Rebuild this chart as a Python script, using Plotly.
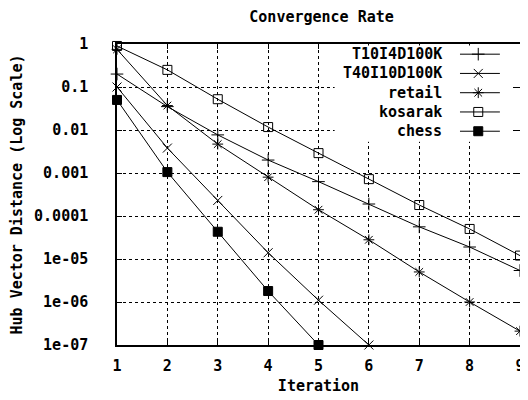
import plotly.graph_objects as go

iterations = [1, 2, 3, 4, 5, 6, 7, 8, 9]

t10i4d100k = [0.2, 0.035, 0.0077, 0.002, 0.00063, 0.00019, 5.6e-05, 1.9e-05, 5.4e-06]
t40i10d100k = [0.1, 0.0038, 0.00023, 1.4e-05, 1.1e-06, 1e-07]
retail = [0.75, 0.037, 0.0047, 0.0008, 0.00014, 2.8e-05, 5e-06, 1e-06, 2.1e-07]
kosarak = [0.9, 0.25, 0.052, 0.0117, 0.0029, 0.00072, 0.00018, 5e-05, 1.2e-05]
chess = [0.05, 0.00105, 4.3e-05, 1.8e-06, 1e-07]

series_names = ["T10I4D100K", "T40I10D100K", "retail", "kosarak", "chess"]
series_values = [t10i4d100k, t40i10d100k, retail, kosarak, chess]
series_symbols = ["cross-thin-open", "x-thin-open", "asterisk-open", "square-open", "square"]

y_tick_vals = [1, 0.1, 0.01, 0.001, 0.0001, 1e-05, 1e-06, 1e-07]
y_tick_text = ["1", "0.1", "0.01", "0.001", "0.0001", "1e-05", "1e-06", "1e-07"]
x_tick_vals = iterations

FONT = dict(family="DejaVu Sans Mono", size=15, color="black", weight="bold")

fig = go.Figure()

for name, vals, sym in zip(series_names, series_values, series_symbols):
    fig.add_trace(go.Scatter(
        x=iterations[:len(vals)], y=vals, name=name, mode="lines+markers",
        line=dict(color="black", width=1),
        marker=dict(symbol=sym, size=9, color="black", line=dict(color="black", width=1)),
        showlegend=False, cliponaxis=False,
    ))

# custom gnuplot-style legend (text on left, sample on right) in a small hidden
# subplot whose white background masks the grid behind the key
for i, (name, sym) in enumerate(zip(series_names, series_symbols)):
    row = 0.91 - 0.2 * i
    fig.add_trace(go.Scatter(
        x=[0.707, 0.932], y=[row, row], xaxis="x2", yaxis="y2", mode="lines",
        line=dict(color="black", width=1), showlegend=False, hoverinfo="skip",
    ))
    fig.add_trace(go.Scatter(
        x=[0.81], y=[row], xaxis="x2", yaxis="y2", mode="markers",
        marker=dict(symbol=sym, size=9, color="black", line=dict(color="black", width=1)),
        showlegend=False, hoverinfo="skip",
    ))
    fig.add_annotation(text=name, xref="x2", yref="y2", x=0.615, y=row,
                       xanchor="right", yanchor="middle", showarrow=False, font=FONT)

# the page body has an 8px margin, so the figure is sized to fit the 528x400 window
fig.update_layout(
    width=520, height=392,
    margin=dict(l=109, r=8, t=36, b=55, autoexpand=False),
    paper_bgcolor="white", plot_bgcolor="white",
    font=FONT,
    title=dict(text="Convergence Rate", x=0.603, xanchor="center", y=0.977, yanchor="middle",
               font=FONT),
    xaxis=dict(
        range=[1, 9], tickvals=x_tick_vals, ticks="inside", ticklen=5, tickcolor="black",
        showline=True, linecolor="black", linewidth=1.5, mirror="allticks",
        showgrid=True, gridcolor="black", griddash="dot", gridwidth=1,
        zeroline=False, tickfont=FONT, ticklabelstandoff=6, automargin=False,
        title=dict(text="Iteration", font=FONT, standoff=7),
    ),
    yaxis=dict(
        type="log", range=[-7, 0], tickvals=y_tick_vals, ticktext=y_tick_text,
        ticks="inside", ticklen=5, tickcolor="black",
        showline=True, linecolor="black", linewidth=1.5, mirror="allticks",
        showgrid=True, gridcolor="black", griddash="dot", gridwidth=1,
        zeroline=False, tickfont=FONT, ticklabelstandoff=24, automargin=False,
        title=dict(text="Hub Vector Distance (Log Scale)", font=FONT, standoff=26),
    ),
    xaxis2=dict(domain=[0.54, 0.98], range=[0, 1], anchor="y2", visible=False, fixedrange=True),
    yaxis2=dict(domain=[0.675, 0.995], range=[0, 1], anchor="x2", visible=False, fixedrange=True),
)

fig.write_html("out.html")
